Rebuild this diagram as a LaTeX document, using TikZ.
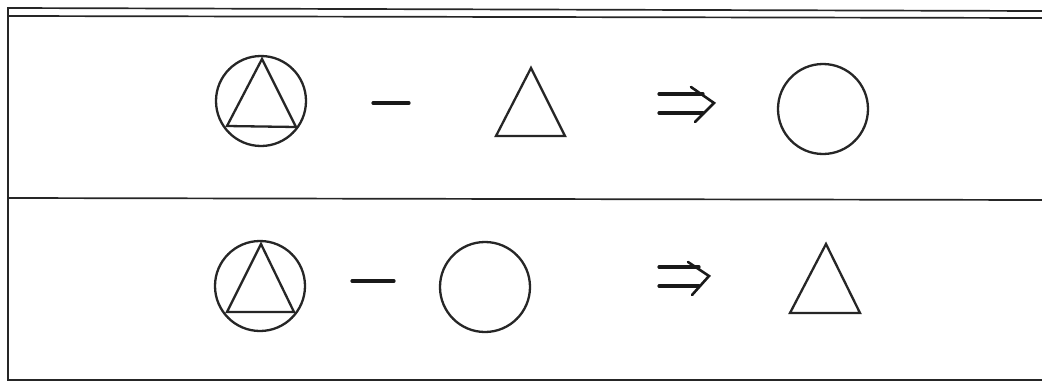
\documentclass[tikz,border=0pt]{standalone}
\begin{document}
\begin{tikzpicture}[x=1pt,y=-1pt,
  frame/.style={draw=black!85,line width=1.7pt},
  figline/.style={draw=black!85,line width=2.3pt,line join=miter},
  sym/.style={draw=black!90,line width=3.2pt,line cap=round}]
\useasboundingbox[fill=white] (0,0) rectangle (1042,383);
% frame
\draw[frame] (1042,11) -- (8,8) -- (8,380) -- (1042,380);
\draw[frame] (8,16) -- (1042,18);
\draw[frame] (8,198) -- (1042,200);
% ---- top row ----
\node[figline,circle,minimum size=90pt,inner sep=0pt] (c1) at (261,101) {};
\coordinate (t1a) at (262,59);
\coordinate (t1b) at (227,126);
\coordinate (t1c) at (296,127);
\draw[figline] (t1a) -- (t1b) -- (t1c) -- cycle;
\coordinate (m1a) at (373,103);
\coordinate (m1b) at (409,103);
\draw[sym] (m1a) -- (m1b);
\coordinate (t2a) at (531,68);
\coordinate (t2b) at (496,136);
\coordinate (t2c) at (565,136);
\draw[figline] (t2a) -- (t2b) -- (t2c) -- cycle;
\coordinate (a1s1) at (659,94);
\coordinate (a1e1) at (703,94);
\coordinate (a1s2) at (659,113);
\coordinate (a1e2) at (703,113);
\draw[sym] (a1s1) -- (a1e1);
\draw[sym] (a1s2) -- (a1e2);
\coordinate (a1p) at (691,87);
\coordinate (a1t) at (714,103);
\coordinate (a1q) at (695,122);
\draw[sym,line width=2.6pt] (a1p) -- (a1t) -- (a1q);
\node[figline,circle,minimum size=90pt,inner sep=0pt] (c2) at (823,109) {};
% ---- bottom row ----
\node[figline,circle,minimum size=90pt,inner sep=0pt] (c3) at (260,286) {};
\coordinate (t3a) at (261,244);
\coordinate (t3b) at (227,312);
\coordinate (t3c) at (294,312);
\draw[figline] (t3a) -- (t3b) -- (t3c) -- cycle;
\coordinate (m2a) at (352,281);
\coordinate (m2b) at (394,281);
\draw[sym] (m2a) -- (m2b);
\node[figline,circle,minimum size=90pt,inner sep=0pt] (c4) at (485,287) {};
\coordinate (a2s1) at (659,267);
\coordinate (a2e1) at (699,267);
\coordinate (a2s2) at (659,286);
\coordinate (a2e2) at (699,286);
\draw[sym] (a2s1) -- (a2e1);
\draw[sym] (a2s2) -- (a2e2);
\coordinate (a2p) at (688,262);
\coordinate (a2t) at (709,276);
\coordinate (a2q) at (692,295);
\draw[sym,line width=2.6pt] (a2p) -- (a2t) -- (a2q);
\coordinate (t4a) at (826,244);
\coordinate (t4b) at (790,313);
\coordinate (t4c) at (860,313);
\draw[figline] (t4a) -- (t4b) -- (t4c) -- cycle;
\end{tikzpicture}
\end{document}
